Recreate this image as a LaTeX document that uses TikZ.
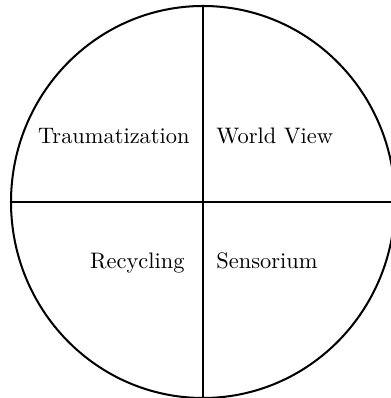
\documentclass[tikz,border=0pt]{standalone}
\usepackage{tikz}
\usetikzlibrary{positioning}

\tikzset{
    quadlabel/.style={inner sep=0pt, font=\normalsize},
    divider/.style={line width=0.9pt}
}

\begin{document}
\begin{tikzpicture}[x=0.446pt, y=0.446pt]
    % Canvas
    \useasboundingbox (0,0) rectangle (390,398);

    % Centre and ends of the cross
    \coordinate (c) at (203,196);
    \coordinate (top) at (203,392);
    \coordinate (bottom) at (203,0);
    \coordinate (left) at (11,196);
    \coordinate (right) at (395,196);

    % Outer circle
    \draw[divider] (c) ellipse [x radius=192, y radius=196];

    % Cross
    \draw[divider] (top) -- (bottom);
    \draw[divider] (left) -- (right);

    % Quadrant labels
    \node[quadlabel, anchor=base east] (trauma) at (190,254) {Traumatization};
    \node[quadlabel, anchor=base west] (world) at (216,254) {World View};
    \node[quadlabel, anchor=base east] (recyc) at (185,129) {Recycling};
    \node[quadlabel, anchor=base west] (senso) at (216,129) {Sensorium};
\end{tikzpicture}
\end{document}
